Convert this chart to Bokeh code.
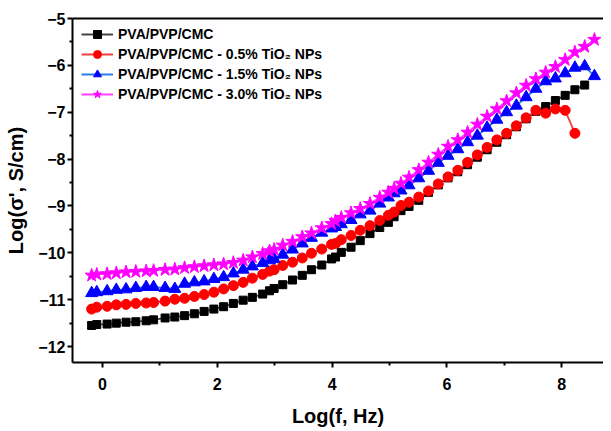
from bokeh.plotting import figure
from bokeh.models import LinearAxis, FixedTicker, Range1d
from bokeh.embed import file_html
from bokeh.resources import INLINE

# log10 of frequency (Hz)
log_f = [-0.19, -0.10, 0.08, 0.24, 0.41, 0.58, 0.76, 0.89, 1.09, 1.26,
         1.43, 1.60, 1.77, 1.94, 2.11, 2.28, 2.45, 2.61, 2.79, 2.91,
         2.99, 3.14, 3.31, 3.48, 3.64, 3.82, 3.99, 4.06, 4.16, 4.33,
         4.49, 4.66, 4.83, 4.98, 5.08, 5.20, 5.34, 5.51, 5.68, 5.85,
         6.02, 6.19, 6.36, 6.53, 6.70, 6.87, 7.04, 7.21, 7.38, 7.55,
         7.72, 7.89, 8.06, 8.23, 8.40, 8.57]

# log conductivity (S/cm)
pva_pvp_cmc = [-11.55, -11.53, -11.52, -11.50, -11.48, -11.47, -11.45, -11.43, -11.39, -11.37,
               -11.34, -11.30, -11.25, -11.20, -11.15, -11.08, -11.01, -10.95, -10.88, -10.81,
               -10.76, -10.68, -10.58, -10.48, -10.36, -10.26, -10.13, -10.09, -9.99, -9.88,
               -9.74, -9.59, -9.46, -9.35, -9.23, -9.10, -9.01, -8.88, -8.71, -8.55,
               -8.40, -8.27, -8.12, -7.96, -7.80, -7.64, -7.48, -7.31, -7.14, -6.98,
               -6.88, -6.75, -6.64, -6.52, -6.42]

tio2_05 = [-11.20, -11.16, -11.14, -11.11, -11.10, -11.08, -11.07, -11.06, -11.03, -10.99,
           -10.97, -10.93, -10.89, -10.84, -10.77, -10.70, -10.63, -10.54, -10.46, -10.39,
           -10.36, -10.27, -10.20, -10.11, -10.01, -9.92, -9.82, -9.80, -9.72, -9.63,
           -9.52, -9.42, -9.31, -9.20, -9.13, -8.99, -8.92, -8.81, -8.68, -8.53,
           -8.38, -8.24, -8.07, -7.91, -7.75, -7.59, -7.45, -7.29, -7.12, -6.96,
           -7.02, -6.93, -6.96, -7.45]

tio2_15 = [-10.86, -10.84, -10.82, -10.79, -10.78, -10.75, -10.73, -10.73, -10.75, -10.77,
           -10.66, -10.63, -10.61, -10.56, -10.52, -10.44, -10.36, -10.29, -10.22, -10.16,
           -10.13, -10.04, -9.93, -9.80, -9.68, -9.57, -9.48, -9.45, -9.39, -9.30,
           -9.18, -9.10, -8.95, -8.82, -8.73, -8.67, -8.56, -8.41, -8.25, -8.08,
           -7.93, -7.79, -7.64, -7.50, -7.33, -7.16, -7.00, -6.86, -6.68, -6.50,
           -6.34, -6.28, -6.17, -6.05, -6.02, -6.23]

tio2_30 = [-10.48, -10.46, -10.45, -10.43, -10.41, -10.40, -10.39, -10.38, -10.36, -10.35,
           -10.32, -10.30, -10.28, -10.26, -10.24, -10.21, -10.16, -10.09, -10.02, -9.96,
           -9.93, -9.84, -9.76, -9.66, -9.58, -9.47, -9.38, -9.32, -9.25, -9.15,
           -9.06, -8.95, -8.82, -8.71, -8.63, -8.52, -8.39, -8.23, -8.07, -7.90,
           -7.73, -7.59, -7.43, -7.26, -7.09, -6.93, -6.76, -6.59, -6.43, -6.29,
           -6.15, -6.03, -5.88, -5.72, -5.60, -5.45]

labels = ["PVA/PVP/CMC",
          "PVA/PVP/CMC - 0.5% TiO\u2082 NPs",
          "PVA/PVP/CMC - 1.5% TiO\u2082 NPs",
          "PVA/PVP/CMC - 3.0% TiO\u2082 NPs"]

x_ticks = [0, 2, 4, 6, 8]
x_minor = [1, 3, 5, 7]
y_ticks = [-12, -11, -10, -9, -8, -7, -6, -5]
y_minor = [-11.5, -10.5, -9.5, -8.5, -7.5, -6.5, -5.5]

FONT = "Liberation Sans"

p = figure(frame_width=531, frame_height=344,
           x_range=Range1d(-0.523, 8.728), y_range=Range1d(-12.34, -5.0),
           output_backend="svg", toolbar_location=None,
           min_border_left=72, min_border_right=0, min_border_top=18, min_border_bottom=60,
           x_axis_label="Log(f, Hz)", y_axis_label="Log(\u03c3', S/cm)")
p.outline_line_color = None
p.grid.visible = False
p.background_fill_color = "white"
p.border_fill_color = "white"

series = [
    (pva_pvp_cmc, "square", "black", "#454545", 8),
    (tio2_05, "circle", "#ff0000", "#f04040", 10),
    (tio2_15, "triangle", "#0000ff", "#2a7de8", 12),
    (tio2_30, "star", "#ff00ff", "#ff40ff", 14),
]
for (vals, marker, mcol, lcol, size), lab in zip(series, labels):
    xs = log_f[:len(vals)]
    p.line(xs, vals, line_color=lcol, line_width=1.8, legend_label=lab)
    p.scatter(xs, vals, marker=marker, size=size, fill_color=mcol, line_color=mcol,
              legend_label=lab)

for ax, ticks, minor in ((p.xaxis[0], x_ticks, x_minor), (p.yaxis[0], y_ticks, y_minor)):
    ax.ticker = FixedTicker(ticks=ticks, minor_ticks=minor)
    ax.axis_line_width = 2
    ax.axis_line_color = "black"
    ax.major_tick_line_width = 2
    ax.minor_tick_line_width = 2
    ax.major_tick_in = 0
    ax.major_tick_out = 5
    ax.minor_tick_in = 0
    ax.minor_tick_out = 3
    ax.major_label_text_font = FONT
    ax.major_label_text_font_style = "bold"
    ax.major_label_text_font_size = "16px"
    ax.major_label_text_color = "black"
    ax.axis_label_text_font = FONT
    ax.axis_label_text_font_style = "bold"
    ax.axis_label_text_font_size = "20px"
    ax.axis_label_text_color = "black"

p.xaxis[0].major_label_standoff = 10
p.xaxis[0].axis_label_standoff = 12
p.yaxis[0].major_label_standoff = 2
p.yaxis[0].axis_label_standoff = 8

top = LinearAxis(ticker=FixedTicker(ticks=[]), major_label_text_font_size="0px",
                 axis_line_width=2, axis_line_color="black",
                 major_tick_line_color=None, minor_tick_line_color=None)
p.add_layout(top, "above")

leg = p.legend[0]
leg.location = (9, 258)
leg.padding = 0
leg.margin = 0
leg.spacing = 0
leg.glyph_width = 32
leg.glyph_height = 20
leg.label_height = 20
leg.label_standoff = 5
leg.label_text_font = FONT
leg.label_text_font_style = "bold"
leg.label_text_font_size = "14px"
leg.label_text_color = "black"
leg.border_line_color = None
leg.background_fill_alpha = 0

open("out.html", "w").write(file_html(p, INLINE))
